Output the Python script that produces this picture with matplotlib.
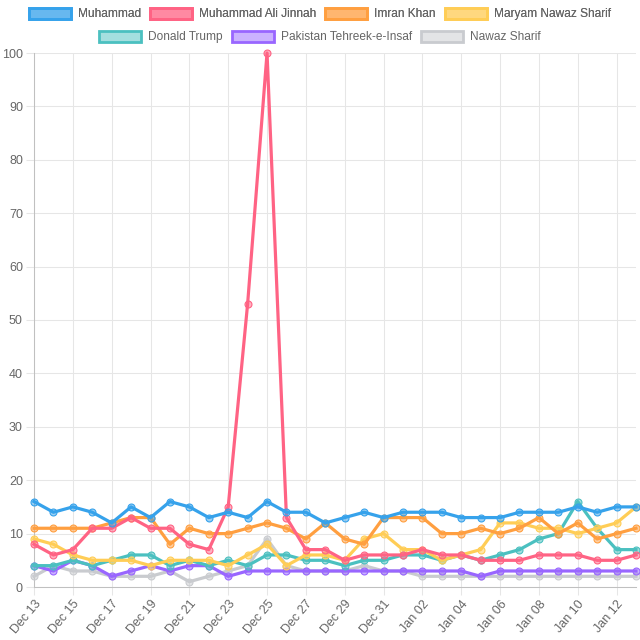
import pandas as pd
import matplotlib.pyplot as plt
from matplotlib.patches import Patch

plt.rcParams['font.family'] = ['Liberation Sans', 'DejaVu Sans']

# 日期 Dec 13 - Jan 13
days = pd.date_range('2019-12-13', '2020-01-13', freq='D')
day_labels = [d.strftime('%b %d') for d in days]

muhammad = [16, 14, 15, 14, 12, 15, 13, 16, 15, 13, 14, 13, 16, 14, 14, 12,
            13, 14, 13, 14, 14, 14, 13, 13, 13, 14, 14, 14, 15, 14, 15, 15]
jinnah = [8, 6, 7, 11, 11, 13, 11, 11, 8, 7, 15, 53, 100, 13, 7, 7,
          5, 6, 6, 6, 7, 6, 6, 5, 5, 5, 6, 6, 6, 5, 5, 6]
imran = [11, 11, 11, 11, 12, 13, 13, 8, 11, 10, 10, 11, 12, 11, 9, 12,
         9, 8, 13, 13, 13, 10, 10, 11, 10, 11, 13, 10, 12, 9, 10, 11]
maryam = [9, 8, 6, 5, 5, 5, 4, 5, 5, 5, 4, 6, 8, 4, 6, 6,
          5, 9, 10, 7, 7, 5, 6, 7, 12, 12, 11, 11, 10, 11, 12, 15]
trump = [4, 4, 5, 4, 5, 6, 6, 4, 5, 4, 5, 4, 6, 6, 5, 5,
         4, 5, 5, 6, 6, 5, 6, 5, 6, 7, 9, 10, 16, 11, 7, 7]
pti = [4, 3, 5, 4, 2, 3, 4, 3, 4, 4, 2, 3, 3, 3, 3, 3,
       3, 3, 3, 3, 3, 3, 3, 2, 3, 3, 3, 3, 3, 3, 3, 3]
nawaz = [2, 4, 3, 3, 2, 2, 2, 3, 1, 2, 3, 4, 9, 4, 3, 3,
         3, 4, 3, 3, 2, 2, 2, 2, 2, 2, 2, 2, 2, 2, 2, 2]

names = ['Muhammad', 'Muhammad Ali Jinnah', 'Imran Khan', 'Maryam Nawaz Sharif',
         'Donald Trump', 'Pakistan Tehreek-e-Insaf', 'Nawaz Sharif']
series = [muhammad, jinnah, imran, maryam, trump, pti, nawaz]
colors = ['#36a2eb', '#ff6384', '#ff9f40', '#ffcd56', '#4bc0c0', '#9966ff', '#c9cbcf']

grid_c = '#e6e6e6'
zero_c = '#c0c0c0'
text_c = '#666666'

fig = plt.figure(figsize=(6.4, 6.4), dpi=100)
ax = fig.add_axes([34 / 640, 1 - 587 / 640, 602 / 640, 534 / 640])

x = list(range(len(days)))
for i, (name, vals, c) in enumerate(zip(names, series, colors)):
    ax.plot(x, vals, color=c, lw=2.3, marker='o', markersize=5,
            markerfacecolor=c + '80', markeredgecolor=c, markeredgewidth=0.8,
            zorder=10 - i, clip_on=False, label=name)

ax.set_xlim(0, len(days) - 1)
ax.set_ylim(0, 100)
ax.set_yticks(range(0, 101, 10))
ax.set_xticks(x[::2])
ax.set_xticklabels(day_labels[::2], rotation=50, ha='right', rotation_mode='anchor')

ax.grid(True, color=grid_c, lw=0.75, alpha=1)
ax.set_axisbelow(True)
for s in ['top', 'right']:
    ax.spines[s].set_visible(False)
for s in ['left', 'bottom']:
    ax.spines[s].set_color(zero_c)
    ax.spines[s].set_linewidth(0.75)
ax.tick_params(axis='both', length=6, width=0.75, color=grid_c,
               labelcolor=text_c, labelsize=9, pad=2)

# 图例，两行居中
handles = [Patch(facecolor=c + '80', edgecolor=c, lw=2) for c in colors]
kw = dict(frameon=False, fontsize=8.6, labelcolor=text_c, handlelength=3.5,
          handleheight=1.1, handletextpad=0.6, columnspacing=0.75, borderpad=0)
leg1 = fig.legend(handles[:4], names[:4], loc='center', ncol=4,
                  bbox_to_anchor=(0.5, 1 - 14 / 640), **kw)
fig.add_artist(leg1)
fig.legend(handles[4:], names[4:], loc='center', ncol=3,
           bbox_to_anchor=(0.5, 1 - 37 / 640), **kw)

plt.savefig('out.png', dpi=100)
